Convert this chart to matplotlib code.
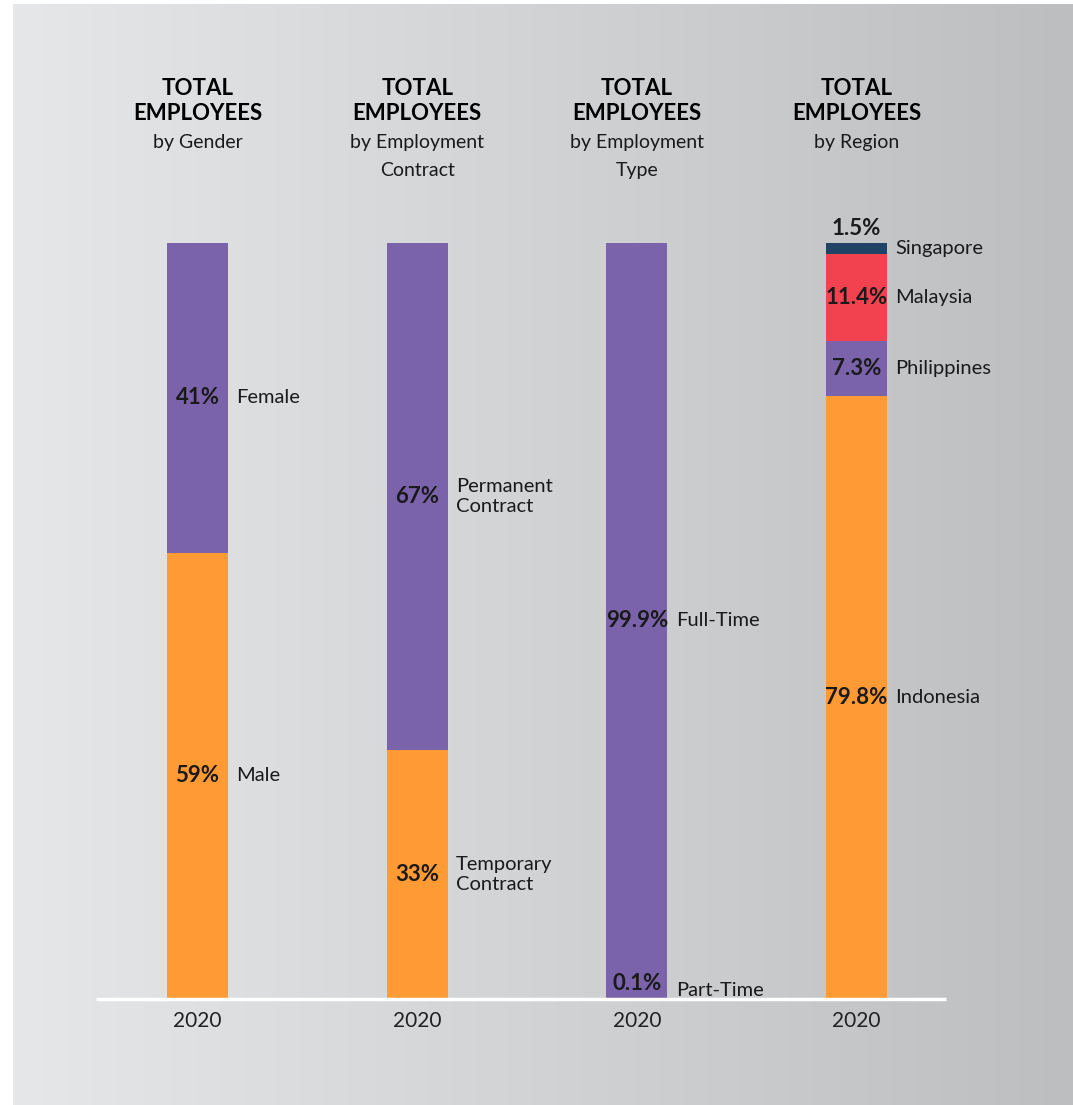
import numpy as np
import matplotlib.pyplot as plt
from matplotlib.colors import LinearSegmentedColormap
from matplotlib.transforms import blended_transform_factory

plt.rcParams['font.family'] = ['Lato', 'DejaVu Sans']

# data, each stack listed from the bottom up
subtitles = ["by Gender", "by Employment\nContract", "by Employment\nType", "by Region"]
years = ["2020", "2020", "2020", "2020"]

gender_labels = ["Male", "Female"]
gender_values = [59, 41]

contract_labels = ["Temporary\nContract", "Permanent\nContract"]
contract_values = [33, 67]

type_labels = ["Part-Time", "Full-Time"]
type_values = [0.1, 99.9]

region_labels = ["Indonesia", "Philippines", "Malaysia", "Singapore"]
region_values = [79.8, 7.3, 11.4, 1.5]

stacks = [
    (gender_labels, gender_values),
    (contract_labels, contract_values),
    (type_labels, type_values),
    (region_labels, region_values),
]

seg_colors = ["#FF9A35", "#7B63AC", "#F2414F", "#1F4465"]
text_col = "#1A1A1A"

W, H = 1073, 1105
fig = plt.figure(figsize=(W / 100, H / 100), dpi=100)
fig.patch.set_facecolor("white")

# gradient panel behind everything
bg = fig.add_axes([13 / W, 0, 1 - 13 / W, (H - 4) / H], zorder=0)
grad = LinearSegmentedColormap.from_list("bg", ["#E6E7E8", "#BDBEC0"])
bg.imshow(np.linspace(0, 1, 256)[None, :], aspect="auto", cmap=grad, extent=[0, 1, 0, 1])
bg.axis("off")

# main axes: y=0 at pixel 999, y=100 at pixel 243
spacing = 219.7
left_px = 197.5 - 0.5 * spacing
ax = fig.add_axes([left_px / W, (H - 999) / H, 4 * spacing / W, 756 / H], zorder=1)
ax.set_xlim(-0.5, 3.5)
ax.set_ylim(0, 100)
ax.axis("off")
ax.patch.set_alpha(0)

bar_w = 61 / spacing

for i, (labels, values) in enumerate(stacks):
    bottom = 0
    for j, (lab, v) in enumerate(zip(labels, values)):
        ax.bar(i, v, bottom=bottom, width=bar_w, color=seg_colors[j], linewidth=0)
        mid = bottom + v / 2
        top = bottom + v
        pct = f"{v:g}%"
        if v < 3:
            ax.annotate(pct, (i, top), xytext=(0, 3), textcoords="offset points",
                        ha="center", va="bottom", fontsize=16, fontweight="bold",
                        color=text_col, annotation_clip=False)
        else:
            ax.text(i, mid, pct, ha="center", va="center", fontsize=16,
                    fontweight="bold", color=text_col)
        dy = 6 if v < 1 else 0
        ax.annotate(lab, (i + bar_w / 2, mid), xytext=(6, dy), textcoords="offset points",
                    ha="left", va="center", fontsize=14.5, color=text_col,
                    linespacing=1.22, annotation_clip=False)
        bottom = top

# white baseline
ax.hlines(0, (96 - 197.5) / spacing, (946 - 197.5) / spacing, color="white",
          linewidth=2.5, clip_on=False, zorder=3)

# titles and year labels: x in data, y in figure fraction
tr = blended_transform_factory(ax.transData, fig.transFigure)
for i, sub in enumerate(subtitles):
    ax.text(i, 1 - 78 / H, "TOTAL\nEMPLOYEES", transform=tr, ha="center", va="top",
            fontsize=16, fontweight="bold", color="black", linespacing=1.25)
    ax.text(i, 1 - 134 / H, sub, transform=tr, ha="center", va="top",
            fontsize=14, color=text_col, linespacing=1.78)
    ax.text(i, 1 - 1021 / H, years[i], transform=tr, ha="center", va="center",
            fontsize=15, color="#222222")

fig.savefig("out.png", dpi=100, facecolor=fig.get_facecolor())
